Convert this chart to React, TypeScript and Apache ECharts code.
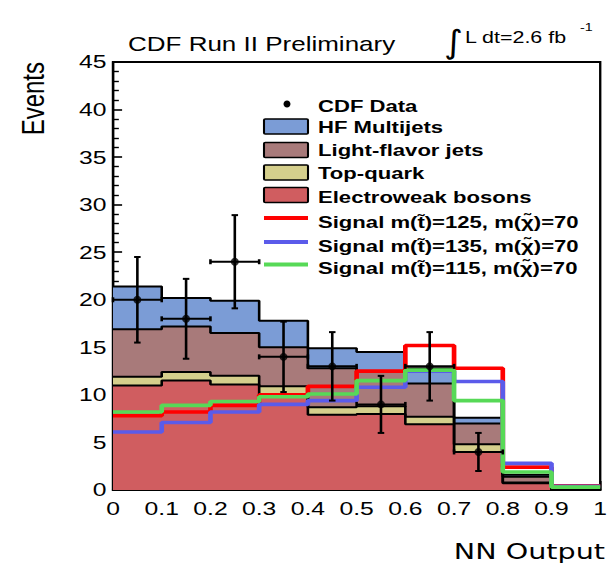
import React, { useEffect, useRef } from "react";
import * as echarts from "echarts";

// ---------- data ----------
const binLow = [0, 0.1, 0.2, 0.3, 0.4, 0.5, 0.6, 0.7, 0.8, 0.9];
const binHigh = 1.0;
const electroweak = [11.0, 11.5, 11.1, 10.1, 7.9, 8.0, 6.9, 4.0, 0.7, 0];
const topQuark = [0.9, 0.9, 0.9, 0.8, 0.8, 0.8, 0.8, 0.8, 0.1, 0];
const lightFlavor = [5.0, 4.8, 4.5, 4.1, 4.1, 3.6, 3.5, 2.2, 0.6, 0];
const hfMultijets = [4.5, 3.0, 3.4, 2.8, 2.1, 2.1, 1.6, 0.6, 0.2, 0];
const signal125 = [7.8, 8.2, 8.9, 10.0, 10.9, 12.5, 15.2, 12.8, 2.4, 0.45];
const signal135 = [6.1, 7.1, 8.2, 9.0, 9.4, 10.8, 12.5, 11.4, 2.8, 0.4];
const signal115 = [8.2, 8.9, 9.3, 9.8, 10.1, 11.5, 12.6, 9.4, 1.9, 0.3];
const dataX = [0.05, 0.15, 0.25, 0.35, 0.45, 0.55, 0.65, 0.75];
const dataY = [20, 18, 24, 14, 13, 9, 13, 4];
const dataErr = [4.5, 4.2, 4.9, 3.7, 3.6, 3.0, 3.6, 2.0];
const legendNames = [
  "CDF Data",
  "HF Multijets",
  "Light-flavor jets",
  "Top-quark",
  "Electroweak bosons",
  "Signal m(t\u0303)=125, m(\u03C7\u0303)=70",
  "Signal m(t\u0303)=135, m(\u03C7\u0303)=70",
  "Signal m(t\u0303)=115, m(\u03C7\u0303)=70",
];

// ---------- style ----------
const S = 1.3; // horizontal stretch of the reference picture
const W0 = 611 / S;
const sx = (px: number) => px / S;
const C_HF = "#7b9cd6";
const C_LF = "#a87a7a";
const C_TQ = "#d5cf8c";
const C_EW = "#d05d60";
const C_S125 = "#ff0000";
const C_S135 = "#5b5bea";
const C_S115 = "#57d957";
const FONT = "'Liberation Sans', Arial, sans-serif";

const stepData = (vals: number[]) => [
  ...binLow.map((x, i) => [x, vals[i]]),
  [binHigh, vals[vals.length - 1]],
];
const addArr = (...arrs: number[][]) => arrs[0].map((_, i) => arrs.reduce((s, a) => s + a[i], 0));

export default function App() {
  const ref = useRef<HTMLDivElement>(null);
  useEffect(() => {
    document.body.style.margin = "0";
    const chart = echarts.init(ref.current!, undefined, { renderer: "svg" });
    const cumTQ = addArr(electroweak, topQuark);
    const cumLF = addArr(electroweak, topQuark, lightFlavor);
    const cumHF = addArr(electroweak, topQuark, lightFlavor, hfMultijets);
    const binW = binLow[1] - binLow[0];

    const stackSeries = (name: string, vals: number[], color: string) => ({
      name,
      type: "line",
      step: "end",
      symbol: "none",
      silent: true,
      data: stepData(vals),
      lineStyle: { color: "#000", width: 2 },
      areaStyle: { color, opacity: 1 },
    });
    const sigSeries = (name: string, vals: number[], color: string) => ({
      name,
      type: "line",
      step: "end",
      symbol: "none",
      silent: true,
      data: stepData(vals),
      lineStyle: { color, width: 3.6 },
    });

    const legendRowsText = [105.5, 127, 150, 172.5, 196.5, 222, 246, 268];
    const boxRows = [126.5, 150, 172.5, 195];
    const lineRows = [218, 242, 264.5];
    const boxColors = [C_HF, C_LF, C_TQ, C_EW];
    const lineColors = [C_S125, C_S135, C_S115];
    const lx0 = sx(264);
    const lw = sx(44);
    const tx = sx(318);

    const graphics: any[] = [];
    graphics.push({
      type: "ellipse",
      shape: { cx: sx(287), cy: 104, rx: 3.5 / S, ry: 3.5 },
      style: { fill: "#000" },
    });
    boxRows.forEach((cy, i) =>
      graphics.push({
        type: "rect",
        shape: { x: lx0, y: cy - 7.5, width: lw, height: 15, r: 1 },
        style: { fill: boxColors[i], stroke: "#000", lineWidth: 1.6 },
      })
    );
    lineRows.forEach((cy, i) =>
      graphics.push({
        type: "line",
        shape: { x1: lx0, y1: cy, x2: lx0 + lw, y2: cy },
        style: { stroke: lineColors[i], lineWidth: 4 },
      })
    );
    legendNames.forEach((t, i) =>
      graphics.push({
        type: "text",
        x: tx,
        y: legendRowsText[i],
        style: {
          text: t,
          fontFamily: FONT,
          fontSize: 17,
          fontWeight: "bold",
          fill: "#000",
          align: "left",
          verticalAlign: "middle",
        },
      })
    );
    // titles
    graphics.push({
      type: "text",
      x: sx(128),
      y: 44.5,
      style: { text: "CDF Run II Preliminary", fontFamily: FONT, fontSize: 20, fill: "#000", align: "left", verticalAlign: "middle" },
    });
    graphics.push({
      type: "text",
      x: sx(444),
      y: 42,
      scaleY: 1.15,
      style: { text: "\u222B", fontFamily: "'DejaVu Sans', sans-serif", fontSize: 28, fill: "#000", align: "left", verticalAlign: "middle" },
    });
    graphics.push({
      type: "text",
      x: sx(465),
      y: 37,
      style: { text: "L dt=2.6 fb", fontFamily: FONT, fontSize: 16.5, fill: "#000", align: "left", verticalAlign: "middle" },
    });
    graphics.push({
      type: "text",
      x: sx(580),
      y: 27,
      style: { text: "-1", fontFamily: FONT, fontSize: 11, fill: "#000", align: "left", verticalAlign: "middle" },
    });
    graphics.push({
      type: "text",
      x: sx(33),
      y: 62,
      rotation: Math.PI / 2,
      style: { text: "Events", fontFamily: FONT, fontSize: 24, fill: "#000", align: "right", verticalAlign: "middle" },
    });
    graphics.push({
      type: "text",
      x: sx(605),
      y: 551,
      style: { text: "NN Output", fontFamily: "'DejaVu Sans', sans-serif", fontSize: 22, fill: "#000", align: "right", verticalAlign: "middle" },
    });

    chart.setOption({
      animation: false,
      backgroundColor: "#fff",
      grid: {
        left: sx(113),
        right: W0 - sx(606),
        top: 62,
        bottom: 75,
        show: true,
        borderColor: "#000",
        borderWidth: 1.8,
        backgroundColor: "transparent",
      },
      xAxis: {
        type: "value",
        min: 0,
        max: 1,
        interval: 0.1,
        axisLine: { show: true, onZero: false, lineStyle: { color: "#000", width: 1.8 } },
        axisTick: { show: true, inside: true, length: 9, lineStyle: { color: "#000", width: 1.5 } },
        minorTick: { show: true, splitNumber: 5, length: 5, lineStyle: { color: "#000", width: 1.3 } },
        splitLine: { show: false },
        axisLabel: { color: "#000", fontFamily: FONT, fontSize: 19, margin: 9, showMinLabel: true, showMaxLabel: true },
      },
      yAxis: {
        type: "value",
        min: 0,
        max: 45,
        interval: 5,
        axisLine: { show: true, lineStyle: { color: "#000", width: 1.8 } },
        axisTick: { show: true, inside: true, length: 7, lineStyle: { color: "#000", width: 1.6 } },
        minorTick: { show: true, splitNumber: 5, length: 4.5, lineStyle: { color: "#000", width: 1.4 } },
        splitLine: { show: false },
        axisLabel: { color: "#000", fontFamily: FONT, fontSize: 19, margin: 5, padding: [6, 0, 0, 0] },
      },
      graphic: graphics,
      series: [
        stackSeries("HF Multijets", cumHF, C_HF),
        stackSeries("Light-flavor jets", cumLF, C_LF),
        stackSeries("Top-quark", cumTQ, C_TQ),
        stackSeries("Electroweak bosons", electroweak, C_EW),
        sigSeries("Signal 125", signal125, C_S125),
        sigSeries("Signal 135", signal135, C_S135),
        sigSeries("Signal 115", signal115, C_S115),
        {
          name: "CDF Data errors",
          type: "custom",
          silent: true,
          z: 5,
          data: dataX.map((x, i) => [x, dataY[i], dataErr[i], x - binW / 2, x + binW / 2]),
          renderItem: (params: any, api: any) => {
            const x = api.value(0), y = api.value(1), e = api.value(2);
            const lo = api.value(3), hi = api.value(4);
            const pTop = api.coord([x, y + e]);
            const pBot = api.coord([x, y - e]);
            const pL = api.coord([lo, y]);
            const pR = api.coord([hi, y]);
            const st = { stroke: "#000", lineWidth: 2 };
            const cw = 2.5;
            return {
              type: "group",
              children: [
                { type: "line", shape: { x1: pTop[0], y1: pTop[1], x2: pBot[0], y2: pBot[1] }, style: st },
                { type: "line", shape: { x1: pL[0], y1: pL[1], x2: pR[0], y2: pR[1] }, style: st },
                { type: "line", shape: { x1: pTop[0] - cw, y1: pTop[1], x2: pTop[0] + cw, y2: pTop[1] }, style: st },
                { type: "line", shape: { x1: pBot[0] - cw, y1: pBot[1], x2: pBot[0] + cw, y2: pBot[1] }, style: st },
                { type: "line", shape: { x1: pL[0], y1: pL[1] - 2.5, x2: pL[0], y2: pL[1] + 2.5 }, style: st },
                { type: "line", shape: { x1: pR[0], y1: pR[1] - 2.5, x2: pR[0], y2: pR[1] + 2.5 }, style: st },
              ],
            };
          },
        },
        {
          name: "CDF Data",
          type: "scatter",
          silent: true,
          z: 6,
          symbol: "circle",
          symbolSize: [8 / S, 8],
          itemStyle: { color: "#000" },
          data: dataX.map((x, i) => [x, dataY[i]]),
        },
      ],
    });
    return () => chart.dispose();
  }, []);
  return (
    <div
      ref={ref}
      style={{
        position: "absolute",
        left: 0,
        top: 0,
        width: `${W0}px`,
        height: "565px",
        transform: `scaleX(${S})`,
        transformOrigin: "0 0",
      }}
    />
  );
}
